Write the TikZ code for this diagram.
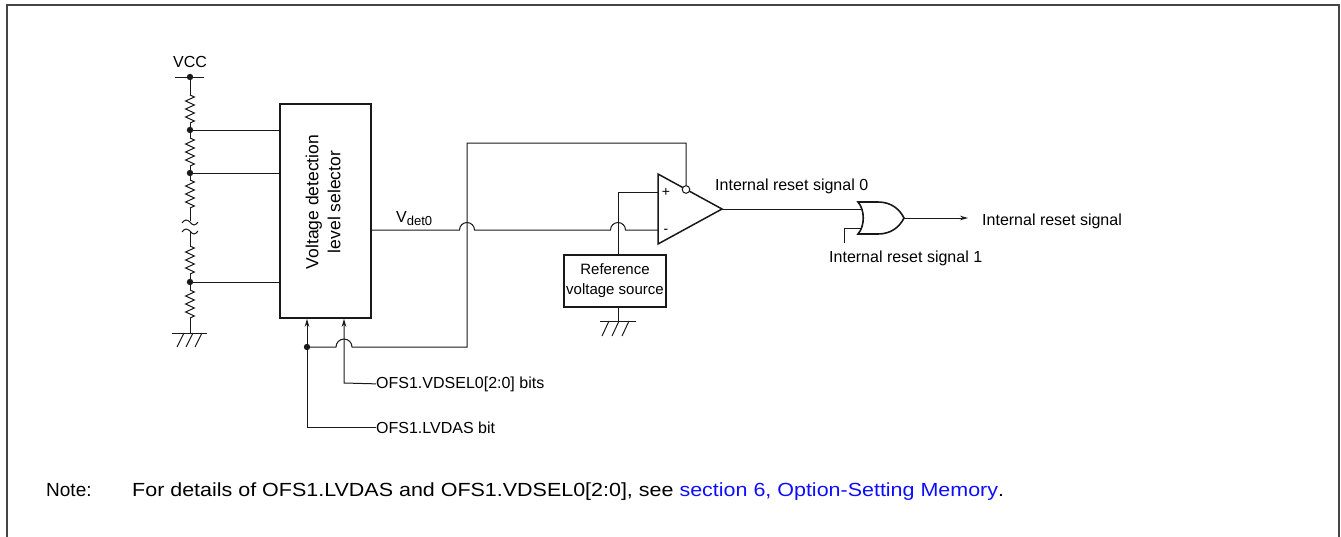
\documentclass[tikz,border=0pt]{standalone}
\usepackage{fontspec}
\setmainfont{Liberation Sans}
\newfontfamily\notefont[FakeStretch=1.13]{Liberation Sans}
\usepackage{tikz}
\usetikzlibrary{arrows.meta}
\usetikzlibrary{positioning}
\usetikzlibrary{decorations,decorations.pathmorphing}
\tikzset{
    block/.style={
      rectangle,
      draw=MyWire,
      fill=white,
      line width=1.6pt,
      inner sep=0pt
    },
    wire/.style={
      draw=MyWire,
      line width=1pt
    },
    res/.style={
      wire,
      decorate,
      decoration={zigzag,segment length=8pt,amplitude=4.4pt}
    },
    sig/.style={
      inner sep=0pt,
      text=black
    },
    notetext/.style={
      inner sep=0pt,
      text=black,
      font=\fontsize{19}{23}\selectfont
    },
}
\definecolor{MyWire}{rgb}{0.1,0.1,0.1}
\definecolor{MyFrame}{rgb}{0.27,0.27,0.27}
\definecolor{MyLink}{rgb}{0.05,0.05,1.0}

\begin{document}
\begin{tikzpicture}[x=1pt,y=-1pt,>={Stealth[length=8pt,width=4.5pt]},font=\fontsize{16}{19}\selectfont]
    \useasboundingbox (0,0) rectangle (1341,536);
    \draw[MyFrame,line width=2pt] (7,540) -- (7,5) -- (1339,5) -- (1339,540);

    \begin{scope}
      \draw (190,67) node[sig,anchor=base] (VccT) {VCC};
      \coordinate (Vcc) at (190,77);
      \draw[wire] (175,77) -- (204,77);
      \fill[MyWire] (Vcc) circle (3.2pt);

      \foreach \a/\b in {77/95,123/138,166/180,208/221,232/246,274/290,318/333}
        \draw[wire] (190,\a) -- (190,\b);
      \foreach \a/\b in {95/123,138/166,180/208,246/274,290/318}
        \draw[res] (190,\a) -- (190,\b);
      \draw[wire] (182,223) sin (186,220) cos (190,222) sin (194,225) cos (198,222);
      \draw[wire] (182,232) sin (186,229) cos (190,231) sin (194,234) cos (198,231);

      \draw[wire] (172,333) -- (207,333);
      \foreach \x in {184,193,202}
        \draw[wire] (\x,333) -- ++(-7,14);
    \end{scope}

    \draw (325.5,211) node[block,minimum width=91pt,minimum height=214pt] (Sel) {};
    \draw (323,202) node[sig,rotate=90,align=center,font=\fontsize{17.5}{22}\selectfont] (SelT) {Voltage detection\\level selector};

    \foreach \y/\n in {130/1,173/2,282/3} {
      \coordinate (T\n) at (190,\y);
      \fill[MyWire] (T\n) circle (3.2pt);
      \path (T\n) edge[wire] (T\n -| Sel.west);
    }

    \draw (376,388) node[sig,anchor=base west] (VdselT) {OFS1.VDSEL0[2:0] bits};
    \draw (376,433) node[sig,anchor=base west] (LvdasT) {OFS1.LVDAS bit};
    \coordinate (Dot) at (307,347);
    \coordinate (Bend) at (344,383);
    \fill[MyWire] (Dot) circle (3.2pt);
    \draw[wire,->] (LvdasT.west) -| (Dot |- Sel.south);
    \draw[wire,->] (VdselT.west) -- (Bend) -- (Bend |- Sel.south);

    \draw (615,281) node[block,minimum width=102pt,minimum height=52pt,align=center,font=\fontsize{15}{20}\selectfont] (Ref) {Reference\\voltage source};
    \coordinate (RefTap) at (618,192);
    \draw[wire] (RefTap |- Ref.south) -- (618,321);
    \draw[wire] (600,321) -- (636,321);
    \foreach \x in {609,619,629}
      \draw[wire] (\x,321) -- ++(-7,15);

    \coordinate (Plus) at (658,192);
    \coordinate (Minus) at (658,230);
    \coordinate (CmpOut) at (722,209);
    \coordinate (Bub) at (686,189.5);
    \draw[wire,line width=1.5pt,fill=white] (658,174) -- (CmpOut) -- (658,244) -- cycle;
    \draw[wire,fill=white] (Bub) circle (3.8pt);
    \draw (666,192) node[sig,font=\fontsize{14}{16}\selectfont] (PlusT) {+};
    \draw (666,231) node[sig,font=\fontsize{14}{16}\selectfont] (MinusT) {-};

    \draw (396,222) node[sig,anchor=base west] (VdetT) {V\textsubscript{\fontsize{13}{15}\selectfont det0}};
    \draw[wire] (Sel.east |- Minus) -- (459.5,230) arc[start angle=180,end angle=0,radius=7.5pt]
      -- (610.5,230) arc[start angle=180,end angle=0,radius=7.5pt] -- (Minus);
    \draw[wire] (Plus) -- (RefTap) -- (RefTap |- Ref.north);
    \draw[wire] (Dot) -- (336,347) arc[start angle=180,end angle=0,radius=8pt]
      -- (467,347) -- (467,143) -| ([yshift=3.8pt]Bub.center);

    \coordinate (OrIn1) at (862,209);
    \coordinate (OrIn2) at (862,228);
    \coordinate (OrOut) at (904,218);
    \coordinate (In2End) at (844,243);
    \draw[wire,line width=1.6pt] (858,202) -- (878,202) .. controls (892,202) and (900,210) .. (OrOut)
      .. controls (900,226) and (892,234) .. (878,234) -- (858,234)
      .. controls (865,226) and (865,210) .. (858,202) -- cycle;
    \draw (715,190) node[sig,anchor=base west] (Rst0T) {Internal reset signal 0};
    \draw (829,262) node[sig,anchor=base west] (Rst1T) {Internal reset signal 1};
    \draw (982,225) node[sig,anchor=base west] (RstT) {Internal reset signal};
    \path (CmpOut) edge[wire] (OrIn1);
    \draw[wire] (In2End) |- (OrIn2);
    \draw[wire,->,shorten >=14pt] (OrOut) -- (OrOut -| RstT.west);

    \draw (46,496) node[notetext,anchor=base west] (NoteT) {Note:};
    \draw (132,496) node[notetext,anchor=base west,font=\notefont\fontsize{19}{23}\selectfont] (NoteB) {For details of OFS1.LVDAS and OFS1.VDSEL0[2:0], see \textcolor{MyLink}{section 6, Option-Setting Memory}.};
  \end{tikzpicture}
\end{document}
